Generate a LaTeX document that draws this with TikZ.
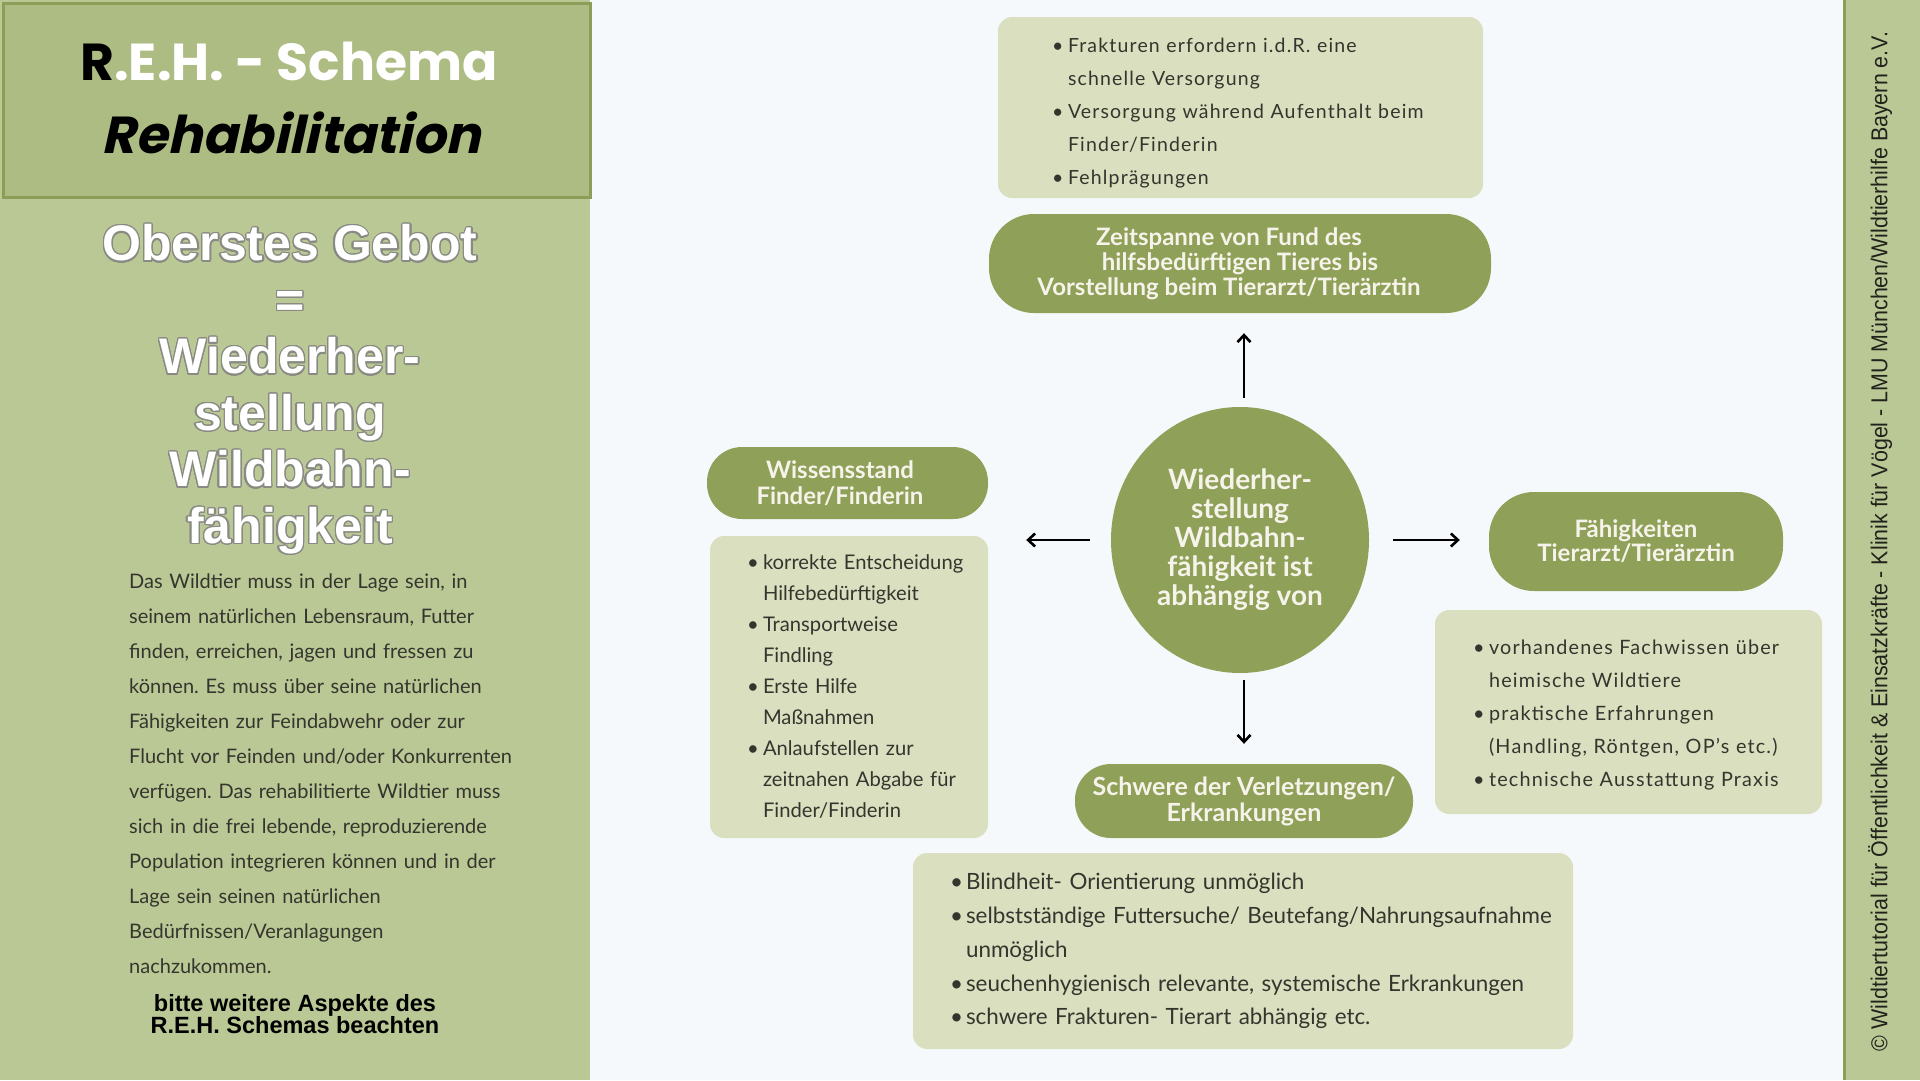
\documentclass[tikz,border=0pt]{standalone}
\usepackage{fontspec}
\usepackage{contour}
\usetikzlibrary{shapes.geometric,arrows.meta}
\setmainfont{Lato}
\newfontfamily\titlefont{Poppins}
\newfontfamily\titleit{Poppins}[FakeSlant=0.22, BoldFeatures={FakeSlant=0.22}]
\newfontfamily\headfont{Liberation Sans}
\newfontfamily\spacedfont{Lato}[LetterSpace=6]
\newfontfamily\stripfont{Liberation Sans}
\definecolor{bg}{HTML}{F5F9FB}
\definecolor{panel}{HTML}{BAC895}
\definecolor{titlebox}{HTML}{ADBC83}
\definecolor{darkgreen}{HTML}{8C9D58}
\definecolor{pill}{HTML}{8FA058}
\definecolor{boxc}{HTML}{DAE0BF}
\definecolor{txt}{HTML}{35352E}
\definecolor{striptxt}{HTML}{22221C}
\definecolor{pilltxt}{HTML}{F6F3EA}
\definecolor{outl}{HTML}{8A8A84}
\contourlength{1.3pt}
\contournumber{24}
\frenchspacing
\newcommand{\bl}[1]{\makebox[16pt][l]{\textbullet}\mbox{#1}}
\newcommand{\cl}[1]{\hspace*{16pt}\mbox{#1}}
\tikzset{
  x=1pt, y=-1pt,
  pillnode/.style={fill=pill, text=pilltxt, align=center, inner sep=0pt, font=\bfseries},
  listbox/.style={fill=boxc, text=txt, rounded corners=14pt, align=left, anchor=center},
  arr/.style={line width=2.6pt, -{Straight Barb[length=7pt,width=13pt]}},
}
\begin{document}
\begin{tikzpicture}
\useasboundingbox (0,0) rectangle (1920,1080);
\fill[bg] (0,0) rectangle (1920,1080);
% left panel
\fill[panel] (0,0) rectangle (590,1080);
\node[draw=darkgreen, line width=3pt, fill=titlebox, minimum width=587pt, minimum height=194pt, inner sep=0pt, anchor=north west] (titlebg) at (1.5,1.5) {};
\node[text=white, font=\titlefont\bfseries\fontsize{52}{60}\selectfont] (title1) at (289,61) {{\color{black}R}.E.H. - Schema};
\node[text=black, font=\titleit\bfseries\fontsize{52}{60}\selectfont] (title2) at (291,133) {Rehabilitation};
\node[text=white, align=center, font=\headfont\bfseries\fontsize{50}{56.5}\selectfont] (gebot) at (290,390)
  {\contour{outl}{Oberstes Gebot}\\\contour{outl}{=}\\\contour{outl}{Wiederher-}\\\contour{outl}{stellung}\\\contour{outl}{Wildbahn-}\\\contour{outl}{fähigkeit}};
\node[text=txt, anchor=north west, align=left, text width=440pt, inner sep=0pt, font=\fontsize{20}{35}\selectfont] (para) at (129,574)
  {Das Wildtier muss in der Lage sein, in\\
   seinem natürlichen Lebensraum, Futter\\
   finden, erreichen, jagen und fressen zu\\
   können. Es muss über seine natürlichen\\
   Fähigkeiten zur Feindabwehr oder zur\\
   Flucht vor Feinden und/oder Konkurrenten\\
   verfügen. Das rehabilitierte Wildtier muss\\
   sich in die frei lebende, reproduzierende\\
   Population integrieren können und in der\\
   Lage sein seinen natürlichen\\
   Bedürfnissen/Veranlagungen\\
   nachzukommen.};
\node[text=black, align=center, font=\headfont\bfseries\fontsize{23.5}{22}\selectfont] (hint) at (295,1014)
  {bitte weitere Aspekte des\\ R.E.H. Schemas beachten};
% right strip
\fill[panel] (1843,0) rectangle (1920,1080);
\draw[darkgreen, line width=3pt] (1844.5,0) -- (1844.5,1080);
\node[rotate=90, text=striptxt, font=\stripfont\fontsize{23}{24}\selectfont] (credit) at (1880,541.5)
  {\scalebox{0.93}[1]{© Wildtiertutorial für Öffentlichkeit \& Einsatzkräfte - Klinik für Vögel - LMU München/Wildtierhilfe Bayern e.V.}};
% centre
\node[ellipse, fill=pill, text=pilltxt, minimum width=258pt, minimum height=266pt, inner sep=0pt, align=center, font=\bfseries\fontsize{28}{29}\selectfont] (circ) at (1240,540)
  {Wiederher-\\stellung\\Wildbahn-\\fähigkeit ist\\abhängig von};
% top
\node[listbox, minimum width=485pt, minimum height=181pt, text width=377pt, inner xsep=54pt, font=\spacedfont\fontsize{19.5}{33}\selectfont] (topbox) at (1240.5,107.5)
  {\rule{0pt}{25pt}\bl{Frakturen erfordern i.d.R. eine}\\
   \cl{schnelle Versorgung}\\
   \bl{Versorgung während Aufenthalt beim}\\
   \cl{Finder/Finderin}\\
   \bl{Fehlprägungen}};
\node[pillnode, rounded corners=45pt, minimum width=502pt, minimum height=99pt, font=\bfseries\fontsize{24}{25}\selectfont] (zeit) at (1240,263.5)
  {Zeitspanne von Fund des\hspace*{22pt}\\hilfsbedürftigen Tieres bis\hspace*{22pt}\\Vorstellung beim Tierarzt/Tierärztin\hspace*{22pt}};
% left
\node[pillnode, rounded corners=35pt, minimum width=281pt, minimum height=72pt, font=\bfseries\fontsize{24}{26}\selectfont] (wiss) at (847.5,483)
  {Wissensstand\hspace*{15pt}\\Finder/Finderin\hspace*{15pt}};
\node[listbox, minimum width=278pt, minimum height=302pt, text width=204pt, inner xsep=37pt, font=\fontsize{20.2}{31}\selectfont] (wissbox) at (849,687)
  {\bl{korrekte Entscheidung}\\
   \cl{Hilfebedürftigkeit}\\
   \bl{Transportweise}\\
   \cl{Findling}\\
   \bl{Erste Hilfe}\\
   \cl{Maßnahmen}\\
   \bl{Anlaufstellen zur}\\
   \cl{zeitnahen Abgabe für}\\
   \cl{Finder/Finderin}};
% right
\node[pillnode, rounded corners=45pt, minimum width=294pt, minimum height=99pt, font=\bfseries\fontsize{24}{24}\selectfont] (faeh) at (1636,541.5)
  {Fähigkeiten\\Tierarzt/Tierärztin};
\node[listbox, minimum width=387pt, minimum height=204pt, text width=311pt, inner xsep=38pt, font=\spacedfont\fontsize{19.8}{33}\selectfont] (faehbox) at (1628.5,712)
  {\rule{0pt}{20pt}\bl{vorhandenes Fachwissen über}\\
   \cl{heimische Wildtiere}\\
   \bl{praktische Erfahrungen}\\
   \cl{(Handling, Röntgen, OP’s etc.)}\\
   \bl{technische Ausstattung Praxis}};
% bottom
\node[pillnode, rounded corners=36pt, minimum width=338pt, minimum height=74pt, font=\bfseries\fontsize{25}{26}\selectfont] (schw) at (1244,801)
  {Schwere der Verletzungen/\\Erkrankungen};
\node[listbox, minimum width=660pt, minimum height=196pt, text width=586pt, inner xsep=37pt, font=\fontsize{22.4}{33.8}\selectfont] (schwbox) at (1243,951)
  {\bl{Blindheit- Orientierung unmöglich}\\
   \bl{selbstständige Futtersuche/ Beutefang/Nahrungsaufnahme}\\
   \cl{unmöglich}\\
   \bl{seuchenhygienisch relevante, systemische Erkrankungen}\\
   \bl{schwere Frakturen- Tierart abhängig etc.}};
% arrows
\draw[arr, shorten <=9pt, shorten >=20pt] ([xshift=4pt]circ.north) -- ([xshift=4pt]zeit.south);
\draw[arr, shorten <=7pt, shorten >=20pt] ([xshift=4pt]circ.south) -- ([xshift=4pt]circ.south |- schw.north);
\draw[arr, shorten <=21pt, shorten >=38pt] (circ.west) -- (circ.west -| wissbox.east);
\draw[arr, shorten <=24pt, shorten >=29pt] (circ.east) -- (circ.east -| faeh.west);
\end{tikzpicture}
\end{document}
